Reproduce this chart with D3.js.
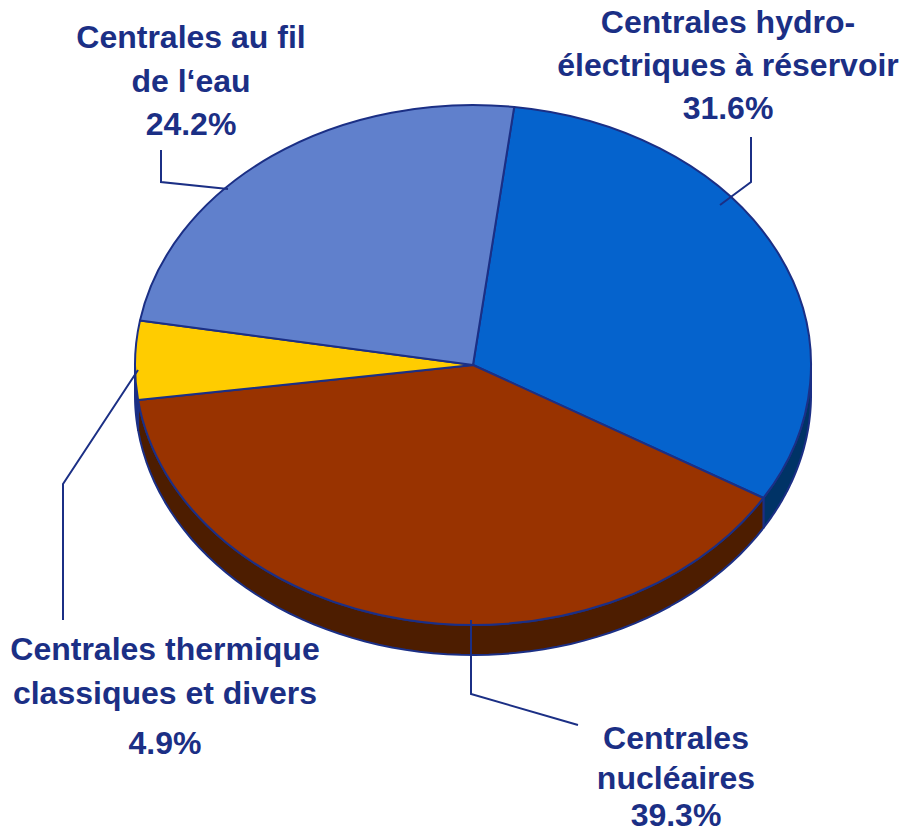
<!DOCTYPE html>
<html lang="fr">
<head>
  <meta charset="UTF-8">
  <title>Production par type de centrale</title>
  <style>
    * { margin: 0; padding: 0; }
    body { background: #fff; }
    svg { display: block; }
    text { font-family: "Liberation Sans", Arial, sans-serif; font-weight: bold; font-size: 32px; fill: #1b2f85; text-anchor: middle; }
  </style>
</head>
<body>
  <div id="chart"></div>
  <script src="https://d3js.org/d3.v7.min.js"></script>
  <script>
    const categories = ["hydro", "nucleaire", "thermique", "fil"];
    const values = [31.6, 39.3, 4.9, 24.2];
    const topColors = ["#0563cd", "#993300", "#ffcc00", "#6080cc"];
    const wallColors = ["#003366", "#4d1d00", "#1b2f85", "#6080cc"];

    // text blocks, one entry per label
    const labelLines = [
      ["Centrales hydro-", "électriques à réservoir", "31.6%"],
      ["Centrales", "nucléaires", "39.3%"],
      ["Centrales thermique", "classiques et divers", "4.9%"],
      ["Centrales au fil", "de l‘eau", "24.2%"]
    ];
    const labelX = [728, 676, 165, 191];
    const labelY = [[33, 76, 119], [749, 789, 826], [660, 704, 754], [48, 92, 135]];
    const leaders = [
      [[751, 137], [751, 182], [720, 205]],
      [[578, 725], [471, 694], [471, 620]],
      [[63, 620], [63, 484], [138, 370]],
      [[161, 150], [161, 182], [228, 189]]
    ];

    const width = 902, height = 834;
    const cx = 473, cy = 365, rx = 338, ry = 260, depth = 30;
    const ink = "#1b2f85";
    const startDeg = 7;

    const svg = d3.select("#chart").append("svg")
      .attr("width", width)
      .attr("height", height);

    const pie = d3.pie().sort(null)
      .startAngle(startDeg * Math.PI / 180)
      .endAngle((startDeg + 360) * Math.PI / 180);
    const slices = pie(values);

    // angle measured clockwise from the top, squashed into the ellipse
    const px = a => cx + rx * Math.sin(a);
    const py = a => cy - ry * Math.cos(a);

    // side wall: only the part of each slice that faces the viewer
    const frontA = Math.PI / 2, frontB = Math.PI * 1.5;
    const wall = svg.append("g");
    slices.forEach((s, i) => {
      const a0 = Math.max(s.startAngle, frontA), a1 = Math.min(s.endAngle, frontB);
      if (a1 <= a0) return;
      const steps = d3.range(0, 61).map(k => a0 + (a1 - a0) * k / 60);
      const pts = steps.map(a => [px(a), py(a)])
        .concat(steps.slice().reverse().map(a => [px(a), py(a) + depth]));
      wall.append("path")
        .attr("d", d3.line()(pts) + "Z")
        .attr("fill", wallColors[i])
        .attr("stroke", ink)
        .attr("stroke-width", 2)
        .attr("stroke-linejoin", "round");
    });

    // top face, unit arc stretched to the ellipse
    const arc = d3.arc().innerRadius(0).outerRadius(rx);
    svg.append("g")
      .attr("transform", `translate(${cx},${cy}) scale(1,${ry / rx})`)
      .selectAll("path")
      .data(slices)
      .join("path")
      .attr("d", arc)
      .attr("fill", (d, i) => topColors[i])
      .attr("stroke", ink)
      .attr("stroke-width", 2)
      .attr("stroke-linejoin", "round")
      .attr("vector-effect", "non-scaling-stroke");

    // leader lines
    svg.append("g")
      .selectAll("path")
      .data(leaders)
      .join("path")
      .attr("d", d3.line())
      .attr("fill", "none")
      .attr("stroke", ink)
      .attr("stroke-width", 2);

    // labels
    categories.forEach((c, i) => {
      svg.append("text")
        .attr("class", c)
        .selectAll("tspan")
        .data(labelLines[i])
        .join("tspan")
        .attr("x", labelX[i])
        .attr("y", (d, k) => labelY[i][k])
        .text(d => d);
    });
  </script>
</body>
</html>
